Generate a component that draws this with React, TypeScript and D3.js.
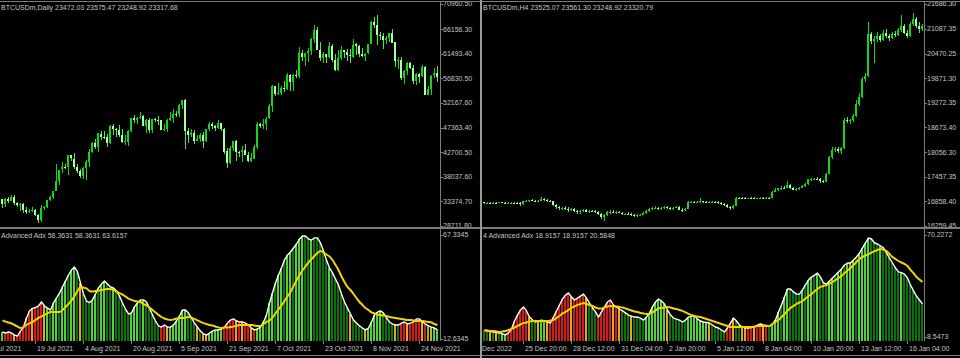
import React from "react";
import * as d3 from "d3";

type OHLC = [number, number, number, number];

// ---------- LEFT: BTCUSDm Daily (8 Jul 2021 .. 30 Nov 2021) ----------
const dailyCandles: OHLC[] = [
  [33889,33907,32133,32877],[32862,34042,32318,33798],[33811,34209,33116,33520],[33519,34589,33404,34240],
  [34255,34592,32697,33155],[33125,33341,32236,32702],[32723,33061,31639,32822],[32827,33159,31175,31780],
  [31842,32249,31021,31421],[31397,31935,31223,31533],[31534,32399,31375,31796],[31800,31885,30563,30817],
  [30838,31006,29360,29807],[29797,32752,29526,32110],[32138,32576,31745,32313],[32306,33581,32057,33581],
  [33593,34490,33424,34292],[34290,35364,33881,35350],[35384,40499,35287,37337],[37276,39406,36441,39406],
  [39503,40816,38862,39995],[40009,40593,39540,40008],[39995,42236,38397,42235],[42213,42305,41064,41626],
  [41461,42541,39540,39974],[39907,40419,38746,39201],[39178,39653,37782,38152],[38214,39952,37589,39747],
  [39744,41341,37458,40870],[40865,43271,39932,42816],[42832,44689,42618,44555],[44574,45282,43331,43798],
  [43791,46456,42848,46365],[46280,46700,45000,45585],[45601,46743,45361,45593],[45583,46218,43770,44428],
  [44439,47885,44261,47794],[47811,48142,46063,47096],[47097,47357,45579,47047],[47020,47998,45700,46004],
  [45937,47133,44437,44695],[44686,46031,44212,44802],[44741,47059,43998,46717],[46723,49342,46650,49339],
  [49327,49757,48273,48905],[48870,49477,48056,49321],[49291,50482,49074,49546],[49562,49878,47687,47706],
  [47706,49107,46451,48960],[48950,49341,46450,46942],[46894,49112,46394,49058],[49072,49283,48468,48902],
  [48911,49644,47925,48830],[48834,48909,46905,47054],[47025,48189,46750,47166],[47100,49111,46562,48847],
  [48807,50343,48652,49327],[49288,51033,48400,50025],[50025,50558,49537,49944],[49937,51868,49538,51753],
  [51769,52700,51053,52633],[52661,52853,43285,46811],[46827,47334,44561,46091],[46064,47262,45670,46391],
  [46396,47031,44344,44883],[44869,45970,44818,45201],[45206,46364,44791,46063],[46057,46598,43591,44963],
  [44960,47218,44752,47092],[47098,48450,46773,48176],[48158,48486,47079,47783],[47771,48002,46873,47267],
  [47273,48813,47113,48278],[48268,48372,46829,47260],[47261,47328,42501,42843],[43012,43639,39787,40694],
  [40677,44000,40565,43574],[43560,44978,43070,44895],[44929,45061,41059,42839],[42836,42996,41759,42716],
  [42721,43919,40848,43208],[43234,44313,42190,42235],[42200,42775,40931,41034],[41026,42545,40830,41564],
  [41511,44092,41444,43790],[43816,48436,43320,48116],[48137,48336,47430,47711],[47680,49130,47157,48199],
  [48208,49456,46937,49112],[49174,51836,49134,51514],[51486,55568,50488,55361],[55339,55339,53525,53805],
  [53802,55922,53688,53967],[53930,55397,53735,54968],[54952,56401,54264,54771],[54734,57793,54519,57484],
  [57526,57627,54477,56041],[56038,57688,54370,57401],[57372,58478,56957,57321],[57345,62757,56868,61593],
  [61609,62274,60206,60887],[60887,61645,59164,61553],[61548,62614,60012,62026],[62043,64486,61322,64262],
  [64284,66930,63610,65993],[66002,66600,62117,62210],[62237,63715,60122,60692],[60694,61743,59826,61393],
  [61368,61505,59643,60931],[60893,63729,60691,63039],[63032,63276,59932,60363],[60352,61436,58208,58482],
  [58470,62128,58206,60622],[60624,62927,60329,62227],[62240,62275,60728,61888],[61850,62406,60075,61318],
  [61320,62419,59695,61004],[60964,64242,60673,63226],[63255,63516,61184,62970],[62941,63123,60799,61452],
  [61461,62541,60844,61125],[61068,61590,60163,61527],[61554,63326,61432,63326],[63344,67673,63344,67566],
  [67549,68531,66382,66971],[66953,68789,63208,64995],[64978,65579,64181,64950],[64864,65461,62333,64155],
  [64158,64915,63303,64470],[64455,65495,63647,65466],[65521,66281,63548,63557],[63721,63721,59016,60161],
  [60139,60823,58515,60368],[60360,60948,56550,56942],[56896,58351,55705,58119],[58115,59859,57469,59697],
  [59730,60004,58618,58730],[58706,59266,55679,56289],[56304,57875,55632,57570],[57565,57804,55964,57005],
  [57165,59367,57009,58960],[58960,59183,53569,53727],[53736,55329,53668,54816],[54813,57393,53576,57248],
  [57474,58749,56856,57806],[57830,59113,56057,56999],
];

const dailyAdx = [
  16.3,15.8,16.3,15.8,14.7,14.2,16.8,18.9,23.7,27.4,
  28.7,29.2,30.0,32.1,30.0,28.9,27.9,31.6,34.2,36.8,
  40.0,43.1,46.3,48.9,50.5,47.9,42.1,36.3,32.6,31.8,
  33.2,36.3,39.5,41.6,43.1,41.6,40.0,39.5,37.9,35.2,
  31.6,28.4,25.8,26.3,29.5,31.6,33.2,33.2,32.1,28.9,
  25.3,22.1,19.5,18.9,20.0,18.9,18.9,20.0,22.1,24.7,
  27.9,27.9,26.3,23.7,21.0,18.9,16.8,15.3,14.7,15.8,
  16.8,17.4,17.4,17.9,18.9,21.0,22.6,23.2,22.1,21.6,
  21.6,21.0,20.0,18.4,17.4,17.9,18.9,21.6,25.3,31.6,
  36.8,42.1,46.3,50.0,54.2,56.8,58.4,60.5,62.6,65.2,
  66.8,66.8,65.2,64.7,65.8,65.8,63.1,58.9,54.2,50.0,
  47.4,44.2,41.0,36.3,32.1,28.9,25.8,22.6,21.0,19.5,
  18.4,17.4,18.4,21.6,25.3,26.8,27.4,26.3,23.7,21.6,
  20.5,20.0,20.0,21.0,21.6,20.5,21.0,21.6,23.2,23.2,
  21.6,20.5,19.5,18.9,18.4,17.4,
];

const dailySignal = [
  22.4,21.8,21.3,20.8,20.0,19.2,18.4,18.9,20.0,20.8,
  21.6,22.6,23.7,24.5,25.3,26.1,26.8,26.8,26.8,26.8,
  27.9,29.5,31.0,32.9,35.2,37.9,40.0,39.7,39.2,37.9,
  37.6,37.9,38.1,38.4,38.7,38.9,38.9,38.4,37.6,36.8,
  36.0,35.0,33.9,33.2,32.6,32.4,32.1,31.0,30.3,29.2,
  27.9,26.6,25.3,24.2,23.4,22.9,22.6,22.9,23.4,23.7,
  23.7,23.9,24.2,23.9,23.2,22.4,21.6,21.0,20.5,20.0,
  19.7,19.2,18.7,18.4,18.7,18.7,18.9,19.2,19.5,20.0,
  20.0,20.0,20.0,20.0,19.7,19.5,19.5,20.5,21.6,22.4,
  23.9,26.1,28.2,30.3,32.6,35.0,37.4,40.5,43.4,46.3,
  48.7,50.8,52.9,54.7,56.3,57.9,58.9,58.1,57.1,56.0,
  54.2,51.6,48.9,45.5,42.6,40.0,38.4,36.3,34.2,32.1,
  30.5,28.9,27.9,26.6,26.1,25.5,25.3,25.0,24.7,24.2,
  23.9,23.7,23.4,23.2,22.9,22.6,22.6,22.4,22.1,22.1,
  22.1,21.8,21.6,21.3,20.5,20.0,
];

const dailyColors =
  "grrrorrrrr" + "orrrogdggd" + "ggdggdoddd" + "ggdggddgdd" + "dddgggdgdd" +
  "dddrrogggg" + "ggdddodoog" + "ggggrrrror" + "orrorgggdg" + "gdggdggdgg" +
  "gddgdddddg" + "ddddddoddd" + "dogggggddd" + "dodrrorrrr" + "orgogg";

const dailyPriceTicks = [70960.5, 66156.3, 61493.4, 56830.5, 52167.6, 47363.4, 42700.5, 38037.6, 33374.7, 28711.8];
const dailyAdxTicks = [67.3345, 12.6345];
const dailyDateIdx = [-5, 11, 27, 43, 59, 75, 91, 107, 123, 139];
const dailyDateText = ["3 Jul 2021", "19 Jul 2021", "4 Aug 2021", "20 Aug 2021", "5 Sep 2021", "21 Sep 2021", "7 Oct 2021", "23 Oct 2021", "8 Nov 2021", "24 Nov 2021"];

// ---------- RIGHT: BTCUSDm H4 (23 Dec 2022 16:00 .. 17 Jan 2023 00:00) ----------
const h4Candles: OHLC[] = [
  [16835,16858,16790,16810],[16810,16840,16795,16828],[16828,16845,16800,16815],[16815,16838,16805,16830],
  [16830,16850,16815,16822],[16822,16840,16810,16835],[16835,16852,16820,16828],[16828,16845,16812,16820],
  [16820,16838,16805,16826],[16826,16842,16815,16832],[16832,16848,16818,16825],[16825,16840,16808,16818],
  [16818,16835,16760,16790],[16790,16870,16780,16860],[16860,16890,16835,16870],[16870,16905,16850,16890],
  [16890,16910,16860,16875],[16875,16900,16850,16865],[16865,16895,16845,16880],[16880,16960,16870,16920],
  [16920,16940,16870,16890],[16890,16910,16850,16870],[16870,16900,16840,16860],[16860,16880,16760,16780],
  [16780,16800,16680,16720],[16720,16740,16650,16690],[16690,16720,16640,16700],[16700,16740,16660,16680],
  [16680,16720,16600,16640],[16640,16700,16620,16680],[16680,16700,16600,16620],[16620,16660,16560,16600],
  [16600,16640,16560,16620],[16620,16680,16600,16650],[16650,16670,16590,16610],[16610,16650,16580,16630],
  [16630,16660,16600,16620],[16620,16650,16580,16600],[16600,16620,16520,16560],[16560,16580,16420,16480],
  [16480,16560,16380,16520],[16520,16620,16500,16590],[16590,16640,16560,16610],[16610,16640,16570,16590],
  [16590,16620,16560,16600],[16600,16630,16570,16580],[16580,16600,16520,16550],[16550,16580,16520,16560],
  [16560,16590,16530,16545],[16545,16570,16500,16530],[16530,16560,16490,16520],[16520,16550,16480,16535],
  [16535,16560,16500,16540],[16540,16600,16520,16580],[16580,16640,16560,16620],[16620,16700,16600,16680],
  [16680,16720,16650,16700],[16700,16740,16670,16710],[16710,16730,16660,16690],[16690,16720,16660,16705],
  [16705,16740,16680,16720],[16720,16740,16680,16700],[16700,16730,16660,16690],[16690,16720,16650,16710],
  [16710,16760,16690,16730],[16730,16750,16640,16660],[16660,16690,16610,16640],[16640,16700,16620,16680],
  [16680,16860,16670,16840],[16840,16880,16810,16850],[16850,16870,16820,16835],[16835,16860,16810,16845],
  [16845,16940,16830,16860],[16860,16880,16830,16850],[16850,16870,16820,16835],[16835,16860,16810,16840],
  [16840,16870,16820,16855],[16855,16880,16830,16840],[16840,16860,16800,16825],[16825,16845,16780,16800],
  [16800,16820,16740,16770],[16770,16790,16700,16730],[16730,16760,16650,16700],[16700,16780,16680,16760],
  [16760,16980,16750,16950],[16950,16975,16920,16945],[16945,16965,16925,16940],[16940,16960,16920,16935],
  [16935,16955,16915,16945],[16945,16960,16925,16940],[16940,16958,16922,16932],[16932,16950,16915,16940],
  [16940,16962,16925,16950],[16950,16970,16930,16945],[16945,16965,16930,16955],[16955,16975,16940,16950],
  [16950,17120,16945,17100],[17100,17180,17080,17150],[17150,17200,17120,17180],[17180,17230,17150,17200],
  [17200,17240,17160,17190],[17190,17350,17180,17260],[17260,17290,17160,17190],[17190,17220,17130,17150],
  [17150,17190,17120,17170],[17170,17220,17150,17200],[17200,17260,17180,17240],[17240,17300,17220,17280],
  [17280,17420,17260,17400],[17400,17440,17370,17410],[17410,17440,17380,17420],[17420,17450,17390,17415],
  [17415,17430,17320,17350],[17350,17380,17300,17340],[17340,17560,17330,17540],[17540,17980,17520,17940],
  [17940,18180,17900,18120],[18120,18200,18060,18150],[18150,18190,18050,18100],[18100,18180,18020,18160],
  [18160,18900,18150,18860],[18860,18920,18780,18820],[18820,18880,18760,18840],[18840,19000,18800,18950],
  [18950,19350,18920,19250],[19250,19500,19200,19420],[19420,19900,19400,19850],[19850,20000,19780,19920],
  [19920,21250,19900,20950],[20950,21000,20700,20780],[20780,20900,20240,20820],[20820,21000,20750,20900],
  [20900,20960,20750,20800],[20800,21050,20780,20980],[20980,21080,20850,20900],[20900,20950,20780,20850],
  [20850,21000,20820,20950],[20950,21020,20880,20920],[20920,21100,20900,21050],[21050,21420,21000,21150],
  [21150,21200,20950,20980],[20980,21060,20850,20900],[20900,21250,20880,21200],[21200,21470,21150,21320],
  [21320,21380,21100,21150],[21150,21250,20980,21080],[21080,21200,21020,21150],
];

const h4Adx = [
  12.5,12.2,11.8,11.6,11.3,11.0,10.4,9.8,11.0,13.4,
  18.2,21.8,24.9,26.7,24.3,20.6,18.8,17.6,18.2,18.8,
  18.2,17.6,17.0,20.6,24.3,27.9,31.5,33.9,35.2,32.7,
  30.9,32.1,33.3,34.5,32.1,29.1,26.1,23.7,20.6,23.7,
  26.7,29.7,30.9,27.9,26.7,25.5,24.3,23.1,21.8,21.2,
  20.6,20.6,20.0,18.8,20.6,23.1,26.7,29.7,31.5,30.3,
  28.5,24.9,21.8,20.0,19.4,18.8,17.6,18.8,20.6,21.2,
  21.2,19.4,18.2,17.6,17.3,17.0,15.8,14.6,14.0,12.8,
  11.6,14.0,17.0,20.0,18.2,15.8,14.6,14.0,14.0,14.3,
  14.6,15.8,16.4,15.8,15.5,15.2,16.4,18.8,23.7,27.9,
  32.7,37.6,37.6,35.8,34.5,34.5,37.0,40.0,43.0,44.8,
  46.0,47.2,44.8,41.2,40.6,42.4,44.2,46.0,47.9,49.7,
  52.1,53.3,53.3,55.1,56.9,59.3,62.4,65.4,68.4,67.8,
  65.4,64.8,63.6,62.4,59.3,56.3,53.3,50.3,47.9,47.5,
  46.6,44.2,40.0,36.4,33.3,30.9,28.5,
];

const h4Signal = [
  12.8,12.5,12.2,12.2,11.9,11.6,11.9,12.2,12.8,13.4,
  14.3,15.2,16.1,17.0,17.3,17.9,18.2,18.2,18.2,18.2,
  18.2,18.2,18.5,18.8,20.0,21.2,22.8,23.7,24.9,26.1,
  27.0,27.9,28.5,29.1,28.5,27.9,27.3,26.4,25.8,25.8,
  26.4,27.0,27.3,27.0,27.0,26.7,26.4,25.8,25.2,24.6,
  24.0,23.7,23.1,22.8,22.5,22.5,23.4,24.6,25.8,26.1,
  26.4,26.7,26.4,25.8,25.5,24.9,24.3,23.4,22.5,21.8,
  21.2,20.9,20.6,20.0,19.4,18.8,18.2,17.6,17.0,16.4,
  15.8,15.2,14.6,14.6,14.6,14.6,14.6,14.6,14.6,14.6,
  14.9,15.2,15.2,15.2,15.2,15.2,16.4,17.6,18.8,20.6,
  22.5,24.3,26.1,27.3,28.5,29.4,30.3,31.8,33.3,34.5,
  36.1,37.6,38.8,39.4,40.0,40.9,41.8,43.0,44.2,45.4,
  47.2,48.8,50.3,52.1,53.9,55.7,56.9,57.8,58.7,59.6,
  60.5,61.2,61.8,61.5,60.5,58.7,56.9,55.7,54.5,53.6,
  52.7,51.5,49.1,47.2,44.8,43.3,41.8,
];

const h4Colors =
  "ddododggrr" + "rrrrroddog" + "gorrrrrrro" + "rrrrodddrr" + "rrrorodddo" +
  "ddddgggggg" + "goddddddgg" + "gggggodddd" + "drroddoorr" + "orrordgggd" +
  "ggddddgdgg" + "dgdddggdgg" + "dgggdggggd" + "ddgddddddg" + "ddddddd";

const h4PriceTicks = [21686.3, 21087.35, 20470.25, 19871.3, 19272.35, 18673.4, 18056.3, 17457.35, 16858.4, 16259.45];
const h4AdxTicks = [70.2272, 8.5473];
const h4DateIdx = [-3, 13, 29, 45, 61, 77, 93, 109, 125, 141];
const h4DateText = ["23 Dec 2022", "25 Dec 20:00", "28 Dec 12:00", "31 Dec 04:00", "2 Jan 20:00", "5 Jan 12:00", "8 Jan 04:00", "10 Jan 20:00", "13 Jan 12:00", "16 Jan 04:00"];

// ---------- styling ----------
const FONT = "'Liberation Sans', Arial, sans-serif";
const FS = 7;
const TXT = "#c4c4c4";
const FRAME = "#7d7d7d";
const HIST: Record<string, string> = { g: "#4fd23a", d: "#0c730c", r: "#d41a1a", o: "#f2a01e" };
const BULL = "#12d812";
const BEAR = "#a8ffa8";

const TOP_Y0 = 4, TOP_Y1 = 226;
const SUB_TOP = 230, SUB_BOT = 341;

type PanelProps = {
  id: string;
  left: number;
  axisX: number;
  firstX: number;
  title: string;
  subLabel: string;
  candles: OHLC[];
  priceTicks: number[];
  adx: number[];
  signal: number[];
  colors: string;
  adxTicks: number[];
  adxRange: [number, number];
  dateIdx: number[];
  dateText: string[];
  firstLabelEnd?: number;
};

function Panel(p: PanelProps) {
  const n = p.candles.length;
  const x = d3.scaleLinear().domain([0, n - 1]).range([p.firstX, p.firstX + 3 * (n - 1)]);
  const yP = d3.scaleLinear()
    .domain([p.priceTicks[p.priceTicks.length - 1], p.priceTicks[0]])
    .range([TOP_Y1, TOP_Y0]);
  const yA = d3.scaleLinear().domain([p.adxTicks[1], p.adxTicks[0]]).range(p.adxRange);
  const lineA = d3.line<number>().x((_, i) => x(i) + 0.5).y((v) => yA(v));
  const plotW = p.axisX - p.left;

  return (
    <g>
      <defs>
        <clipPath id={`${p.id}-top`}><rect x={p.left} y={3} width={plotW} height={224} /></clipPath>
        <clipPath id={`${p.id}-sub`}><rect x={p.left} y={SUB_TOP} width={plotW} height={SUB_BOT - SUB_TOP} /></clipPath>
        <clipPath id={`${p.id}-all`}><rect x={p.left} y={0} width={480} height={358} /></clipPath>
      </defs>

      {/* candles */}
      <g clipPath={`url(#${p.id}-top)`} shapeRendering="crispEdges">
        {p.candles.map(([o, h, l, c], i) => {
          const cx = Math.round(x(i));
          const bull = c >= o;
          const yTop = yP(Math.max(o, c));
          const yBot = yP(Math.min(o, c));
          return (
            <g key={i}>
              <rect x={cx} y={yP(h)} width={1} height={Math.max(1, yP(l) - yP(h))} fill={bull ? BULL : "#3cf03c"} />
              <rect x={cx - 1} y={yTop} width={2} height={Math.max(1, yBot - yTop)} fill={bull ? BULL : BEAR} />
            </g>
          );
        })}
      </g>

      {/* indicator */}
      <g clipPath={`url(#${p.id}-sub)`}>
        <g shapeRendering="crispEdges">
          {p.adx.map((v, i) => (
            <rect key={i} x={Math.round(x(i)) - 1} y={yA(v)} width={2} height={SUB_BOT + 2 - yA(v)} fill={HIST[p.colors[i]] || HIST.g} />
          ))}
        </g>
        <path d={lineA(p.adx) || ""} fill="none" stroke="#ffffff" strokeWidth={1.4} strokeLinejoin="round" />
        <path d={d3.line<number>().x((_, i) => x(i) + 0.5).y((v) => yA(v)).curve(d3.curveMonotoneX)(p.signal) || ""} fill="none" stroke="#f2d400" strokeWidth={2} strokeLinejoin="round" />
      </g>

      {/* frame */}
      <g shapeRendering="crispEdges">
        <rect x={p.axisX} y={2} width={1} height={SUB_BOT - 2} fill={FRAME} />
      </g>

      {/* price axis labels */}
      <g fontFamily={FONT} fontSize={FS} fill={TXT}>
        {p.priceTicks.map((t, k) => (
          <g key={k}>
            <rect x={p.axisX + 1} y={Math.round(yP(t))} width={2} height={1} fill={FRAME} />
            <text x={p.axisX + 3} y={yP(t)} dy="0.35em">{t.toFixed(2)}</text>
          </g>
        ))}
        {p.adxTicks.map((t, k) => (
          <g key={`a${k}`}>
            <rect x={p.axisX + 1} y={Math.round(yA(t))} width={2} height={1} fill={FRAME} />
            <text x={p.axisX + 3} y={yA(t)} dy="0.35em">{t.toFixed(4)}</text>
          </g>
        ))}
        <text x={p.left + 1} y={8} dy="0.35em">{p.title}</text>
        <text x={p.left + 1} y={236} dy="0.35em">{p.subLabel}</text>
      </g>

      {/* date axis */}
      <g fontFamily={FONT} fontSize={FS} fill={TXT} clipPath={`url(#${p.id}-all)`}>
        {p.dateIdx.map((di, k) => {
          const tx = Math.round(x(di));
          const first = k === 0 && p.firstLabelEnd !== undefined;
          return (
            <g key={k}>
              {!first && <rect x={tx} y={SUB_BOT} width={1} height={3} fill={FRAME} />}
              {first ? (
                <text x={p.firstLabelEnd} y={349} dy="0.35em" textAnchor="end">{p.dateText[k]}</text>
              ) : (
                <text x={tx + 2} y={349} dy="0.35em">{p.dateText[k]}</text>
              )}
            </g>
          );
        })}
      </g>
    </g>
  );
}

export default function App() {
  return (
    <svg width={960} height={358} style={{ position: "absolute", left: 0, top: 0, display: "block" }}>
      <rect width={960} height={358} fill="#000" />
      <Panel
        id="dly" left={0} axisX={440} firstX={2}
        title="BTCUSDm,Daily  23472.03 23575.47 23248.92 23317.68"
        subLabel="Advanced Adx 58.3631 58.3631 63.6157"
        candles={dailyCandles} priceTicks={dailyPriceTicks}
        adx={dailyAdx} signal={dailySignal} colors={dailyColors}
        adxTicks={dailyAdxTicks} adxRange={[339, 235]}
        dateIdx={dailyDateIdx} dateText={dailyDateText}
      />
      <Panel
        id="h4" left={482} axisX={924} firstX={484}
        title="BTCUSDm,H4  23525.07 23561.30 23248.92 23320.79"
        subLabel="4 Advanced Adx 18.9157 18.9157 20.5848"
        candles={h4Candles} priceTicks={h4PriceTicks}
        adx={h4Adx} signal={h4Signal} colors={h4Colors}
        adxTicks={h4AdxTicks} adxRange={[337, 235]}
        dateIdx={h4DateIdx} dateText={h4DateText} firstLabelEnd={512}
      />
      <g shapeRendering="crispEdges" fill={FRAME}>
        <rect x={0} y={1} width={960} height={1} />
        <rect x={0} y={227} width={960} height={2} />
        <rect x={0} y={355} width={960} height={1} />
        <rect x={480} y={0} width={2} height={358} fill="#9a9a9a" />
      </g>
    </svg>
  );
}
